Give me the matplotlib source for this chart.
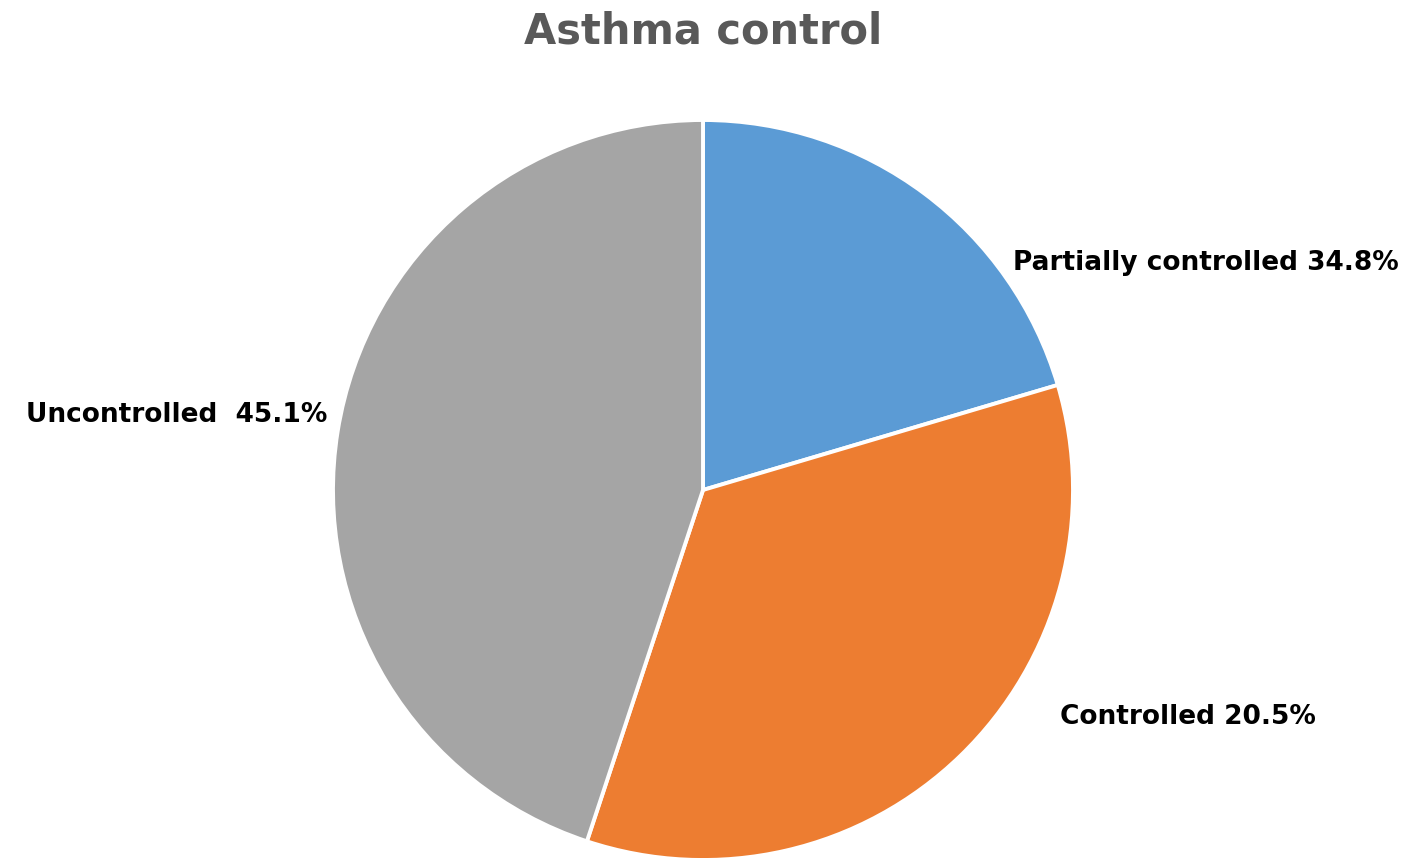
import matplotlib
matplotlib.use('Agg')
import matplotlib.pyplot as plt

# slice values (%) in drawing order, clockwise from 12 o'clock
values = [20.5, 34.8, 45.1]
labels = ['Partially controlled 34.8%', 'Controlled 20.5%', 'Uncontrolled  45.1%']
colors = ['#5B9BD5', '#ED7D31', '#A5A5A5']

plt.rcParams['font.family'] = ['DejaVu Sans']

fig = plt.figure(figsize=(14.07, 8.58), dpi=100)
ax = fig.add_axes([333 / 1407, -2 / 858, 740 / 1407, 740 / 858])

ax.pie(values, colors=colors, startangle=90, counterclock=False, radius=1,
       wedgeprops=dict(edgecolor='white', linewidth=2.8))
ax.set_xlim(-1, 1)
ax.set_ylim(-1, 1)

# label placement (data units, radius = 1)
label_pos = [(0.838, 0.614, 'left'), (0.965, -0.614, 'left'), (-1.016, 0.203, 'right')]
for text, (x, y, ha) in zip(labels, label_pos):
    ax.text(x, y, text, ha=ha, va='center', fontsize=19, fontweight='bold', color='black')

fig.text(0.5, 1 - 32 / 858, 'Asthma control', ha='center', va='center',
         fontsize=30, fontweight='bold', color='#595959')

fig.savefig('out.png', dpi=100)
